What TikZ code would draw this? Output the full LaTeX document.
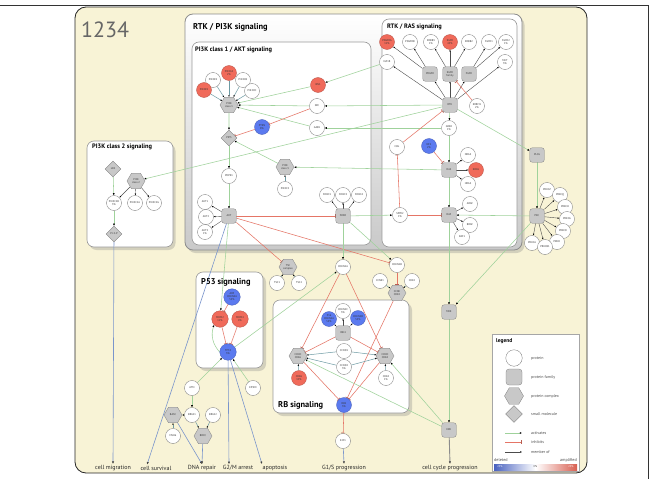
\documentclass[tikz,border=0pt]{standalone}
\usepackage{fontspec}
\setmainfont{PT Sans}
\usetikzlibrary{arrows.meta,shapes.geometric,shadows,positioning}
\pgfdeclarelayer{background}
\pgfdeclarelayer{edges}
\pgfsetlayers{background,edges,main}
\definecolor{cream}{HTML}{F8F3D6}
\definecolor{famgray}{HTML}{C8C8C8}
\definecolor{protred}{HTML}{F06A5A}
\definecolor{protblue}{HTML}{5B7AEF}
\definecolor{actgreen}{HTML}{9FD29B}
\definecolor{inhred}{HTML}{E57566}
\definecolor{cplteal}{HTML}{6C9AA3}
\definecolor{outblue}{HTML}{7A95CC}
\definecolor{boxgray}{HTML}{C9C9C9}

\begin{document}
\begin{tikzpicture}[x=1pt,y=-1pt,
 lbl/.style={font=\fontsize{2.7}{3}\selectfont,align=center,inner sep=0pt,text=black!80},
 protein/.style={lbl,circle,draw=black!55,line width=.3pt,fill=white,minimum size=15pt},
 protred/.style={protein,fill=protred,draw=protred!75!black},
 protblue/.style={protein,fill=protblue,draw=protblue!75!black},
 family/.style={lbl,rounded corners=2.5pt,draw=black!50,line width=.3pt,fill=famgray,minimum size=14.5pt},
 cplx/.style={lbl,regular polygon,regular polygon sides=6,draw=black!50,line width=.3pt,fill=famgray,minimum size=18pt},
 smallmol/.style={lbl,diamond,draw=black!50,line width=.3pt,fill=famgray,minimum size=16pt},
 act/.style={draw=actgreen,line width=.55pt,-{Latex[black,length=2.2pt,width=2pt]}},
 inh/.style={draw=inhred,line width=.55pt,-{Bar[inhred!80!black,width=4pt,line width=.6pt]}},
 memb/.style={draw=black!70,line width=.4pt,-{Latex[black,length=1.8pt,width=1.6pt]}},
 cpl/.style={draw=cplteal,line width=.5pt,-{Latex[black,length=1.8pt,width=1.6pt]}},
 outp/.style={draw=outblue,line width=.6pt,-{Latex[black!75,length=2.6pt,width=2.2pt]}},
 boxouter/.style={rounded corners=8pt,draw=black!45,line width=.8pt,top color=white,bottom color=boxgray,drop shadow={shadow xshift=2.5pt,shadow yshift=-3pt,opacity=.3}},
 boxinner/.style={rounded corners=7pt,draw=black!40,line width=.6pt,fill=white},
 boxtitle/.style={anchor=west,font=\bfseries\fontsize{6.4}{7}\selectfont,inner sep=0pt},
 bigtitle/.style={anchor=west,font=\bfseries\fontsize{8.4}{9}\selectfont,inner sep=0pt},
 outtext/.style={font=\fontsize{6}{7}\selectfont,inner sep=1pt,text=black!85},
 legtext/.style={anchor=west,font=\fontsize{4}{4.5}\selectfont,inner sep=0pt,text=black!70}]
\useasboundingbox (0,0) rectangle (654,479);

% frames and boxes
\begin{pgfonlayer}{background}
\draw[black!80,line width=.7pt] (0,5) -- (648.5,5) -- (648.5,479);
\draw[rounded corners=11pt,fill=cream,draw=black!85,line width=.8pt] (75,7) rectangle (587,473);
\draw[boxouter] (185,14) rectangle (522,250);
\draw[boxinner] (192,42) rectangle (371,245);
\draw[boxinner] (382,19) rectangle (517,247);
\draw[boxinner,drop shadow={shadow xshift=2.5pt,shadow yshift=-3pt,opacity=.3}] (87,141) rectangle (173,247);
\draw[boxinner,drop shadow={shadow xshift=3pt,shadow yshift=-3pt,opacity=.3}] (196,272) rectangle (263,368);
\draw[boxinner,drop shadow={shadow xshift=3pt,shadow yshift=-3pt,opacity=.3}] (273,300) rectangle (409,413);
\draw[draw=black!35,fill=white,line width=.5pt] (492,334) rectangle (579,471);
\end{pgfonlayer}

\node[anchor=west,font=\fontsize{22}{22}\selectfont,text=black!60,inner sep=0pt] (figno) at (81,30) {1234};
\node[bigtitle] (ttlrtkpi) at (193,27) {RTK / PI3K signaling};
\node[boxtitle] (ttlakt) at (195,50) {PI3K class 1 / AKT signaling};
\node[boxtitle] (ttlras) at (387,27) {RTK / RAS signaling};
\node[boxtitle] (ttlclasstwo) at (92,147) {PI3K class 2 signaling};
\node[bigtitle] (ttlpft) at (201,282) {P53 signaling};
\node[bigtitle] (ttlrb) at (278,405) {RB signaling};

% PI3K class 1 / AKT
\node[protein] (pik3r2) at (213,80) {PIK3R2};
\node[protein] (pik3cb) at (243,80) {PIK3CB};
\node[protred] (pik3r1) at (204,90) {PIK3R1};
\node[protein] (pik3cd) at (252,91) {PIK3CD};
\node[protred] (pik3ca) at (229,73) {PIK3CA\\2\%};
\node[cplx] (pi3kone) at (229,105) {PI3K\\class 1};
\node[protred] (irs1) at (318,85) {IRS1};
\node[protein] (src) at (317,106) {SRC};
\node[protein] (gab1) at (317,128) {GAB1};
\node[protblue] (pten) at (262,127) {PTEN\\8\%};
\node[smallmol] (pip3) at (229,138) {PIP3};
\node[protein] (pdpk1) at (229,176) {PDPK1};
\node[family] (akt) at (229,216) {AKT};
\node[protein] (akt1) at (205,202) {AKT1};
\node[protein] (akt2) at (206,217) {AKT2};
\node[protein] (akt3) at (205,232) {AKT3\\1\%};
\node[cplx] (pi3kthree) at (285,167) {PI3K\\class 3};
\node[protein] (pik3c3) at (285,189) {PIK3C3};
\node[family] (foxo) at (343,216) {FOXO};
\node[protein] (foxo1) at (327,195) {FOXO1};
\node[protein] (foxo3) at (343,195) {FOXO3};
\node[protein] (foxo4) at (359,195) {FOXO4};

% RTK / RAS
\node[protred] (pdgfra) at (387,42) {PDGFRA\\11\%};
\node[protein] (pdgfrb) at (410,42) {PDGFRB};
\node[protein] (erbb3) at (431,42) {ERBB3\\1\%};
\node[protred] (egfr) at (450,42) {EGFR\\45\%};
\node[protein] (erbb2) at (469,42) {ERBB2};
\node[protein] (fgfr1) at (489,42) {FGFR1};
\node[protein] (fgfr2) at (506,42) {FGFR2\\1\%};
\node[protein] (igf1r) at (387,62) {IGF1R};
\node[protein] (met) at (505,62) {MET\\3\%};
\node[family] (pdgfr) at (430,74) {PDGFR};
\node[family] (egfrfam) at (450,74) {EGFR\\family};
\node[family] (fgfr) at (469,74) {FGFR};
\node[family] (rtk) at (450,105) {RTK};
\node[protein] (errfi1) at (477,106) {ERRFI1\\2\%};
\node[protein] (grb2) at (449,128) {GRB2\\1\%};
\node[protein] (cbl) at (397,147) {CBL};
\node[protblue] (nf1) at (429,146) {NF1\\2\%};
\node[protein] (nras) at (468,155) {NRAS};
\node[family] (ras) at (449,170) {RAS};
\node[protred] (kras) at (476,170) {KRAS};
\node[protein] (hras) at (468,184) {HRAS};
\node[protein] (spry2) at (400,215) {SPRY2\\1\%};
\node[family] (raf) at (449,215) {RAF};
\node[protein] (araf) at (470,204) {ARAF};
\node[protein] (braf) at (470,225) {BRAF};
\node[protein] (raf1) at (462,237) {RAF1};

% PKC branch
\node[family] (plcg) at (537,155) {PLCG};
\node[family] (pkc) at (537,216) {PKC};
\node[protein] (prkcz) at (547,190) {PRKCZ};
\node[protein] (prkcq) at (560,195) {PRKCQ};
\node[protein] (prkch) at (565,207) {PRKCH};
\node[protein] (prkcg) at (567,219) {PRKCG};
\node[protein] (prkcd) at (563,231) {PRKCD};
\node[protein] (prkci) at (557,242) {PRKCI};
\node[protein] (prkca) at (532,243) {PRKCA};
\node[protein] (prkcb1) at (545,247) {PRKCB1};
\node[family] (mek) at (449,312) {MEK};
\node[family] (erk) at (449,430) {ERK};

% PI3K class 2
\node[smallmol] (lpa) at (113,169) {LPA};
\node[cplx] (pi3ktwo) at (136,181) {PI3K\\class 2};
\node[protein] (pik3c2b) at (114,203) {PIK3C2B\\5\%};
\node[protein] (pik3c2a) at (135,203) {PIK3C2A};
\node[protein] (pik3c2g) at (154,203) {PIK3C2G};
\node[smallmol] (pi3p) at (114,234) {PI-3-P};

% cell cycle entry
\node[protein] (cdkn1b) at (397,265) {CDKN1B};
\node[protein] (ccne1) at (380,281) {CCNE1};
\node[protein] (cdk2) at (412,281) {CDK2};
\node[cplx] (ccnecdk) at (397,293) {CCNE\\CDK2};
\node[protein] (cdkn1a) at (343,267) {CDKN1A};
\node[cplx] (tsc) at (288,267) {TSC\\complex};
\node[protein] (tsc1) at (277,283) {TSC1};
\node[protein] (tsc2) at (299,283) {TSC2};

% P53
\node[protblue,minimum size=16.5pt] (arf) at (232,297) {ARF\\CDKN2A\\53\%};
\node[protred,minimum size=16.5pt] (mdm2) at (220,319) {MDM2\\11\%};
\node[protred,minimum size=16.5pt] (mdm4) at (240,319) {MDM4\\4\%};
\node[protblue,minimum size=16.5pt] (tp53) at (228,352) {TP53\\3\%};
\node[protein] (ep300) at (253,388) {EP300};
\node[protein] (atm) at (192,388) {ATM};
\node[protein] (brca1) at (192,415) {BRCA1};
\node[cplx] (basc) at (173,415) {BASC};
\node[protein] (msh6) at (173,436) {MSH6};
\node[cplx] (brcc) at (203,436) {BRCC};
\node[protein] (brca2) at (213,415) {BRCA2};

% RB
\node[protblue] (cdkn2a) at (329,319) {P16\\CDKN2A\\53\%};
\node[protblue] (cdkn2b) at (358,318) {CDKN2B\\53\%};
\node[protein] (cdkn2c) at (343,311) {CDKN2C\\3\%};
\node[family] (ink4) at (343,333) {INK4};
\node[protein] (ccnd1) at (344,351) {CCND1};
\node[protein] (ccnd2) at (344,367) {CCND2\\3\%};
\node[cplx] (cdksixc) at (298,356) {CCND\\CDK6};
\node[protred] (cdk6) at (299,378) {CDK6\\10\%};
\node[cplx] (cdkfourc) at (385,356) {CCND\\CDK4};
\node[protein] (cdk4) at (386,378) {CDK4\\1\%};
\node[protblue] (rb1) at (344,405) {RB1\\3\%};
\node[protein] (e2f1) at (343,441) {E2F1};

% outcomes
\node[outtext] (migr) at (113,468) {cell migration};
\node[outtext] (surv) at (156,468) {cell survival};
\node[outtext] (dnarep) at (202,468) {DNA repair};
\node[outtext] (gtwom) at (238,468) {G2/M arrest};
\node[outtext] (apop) at (275,468) {apoptosis};
\node[outtext] (gones) at (344,468) {G1/S progression};
\node[outtext] (ccprog) at (450,468) {cell cycle progression};

% legend
\node[anchor=west,font=\bfseries\fontsize{5.5}{6}\selectfont,inner sep=0pt] (legttl) at (496,341) {legend};
\node[protein,minimum size=16.5pt] (legprot) at (514,358) {};
\node[family,minimum size=16pt,rounded corners=3pt] (legfam) at (514,377) {};
\node[cplx,minimum size=19pt] (legcplx) at (514,396) {};
\node[smallmol,minimum size=17pt] (legmol) at (514,414) {};
\node[legtext] at (531,358) {protein};
\node[legtext] at (531,377) {protein family};
\node[legtext] at (531,396) {protein complex};
\node[legtext] at (531,414) {small molecule};
\coordinate (actl) at (505,433); \coordinate (actr) at (522,433);
\coordinate (inhl) at (505,442); \coordinate (inhr) at (522,442);
\coordinate (meml) at (505,452); \coordinate (memr) at (522,452);
\node[legtext] at (531,433) {activates};
\node[legtext] at (531,442) {inhibits};
\node[legtext] at (531,452) {member of};
\node[legtext,font=\fontsize{4.2}{4.5}\selectfont] (legdel) at (494,460.5) {deleted};
\node[legtext,anchor=east,font=\fontsize{4.2}{4.5}\selectfont] (legamp) at (577,460.5) {amplified};
\shade[left color=protblue!80!black,right color=white] (494,464) rectangle (535.5,470);
\shade[left color=white,right color=protred!90!black] (535.5,464) rectangle (577,470);
\node[lbl,text=white] at (500,467) {25\%};
\node[lbl] at (535.5,467) {0\%};
\node[lbl,text=white] at (571,467) {25\%};

\begin{pgfonlayer}{edges}
\draw[act] (actl) -- (actr);
\draw[inh] (inhl) -- (inhr);
\draw[memb] (meml) -- (memr);
% PI3K class 1 / AKT
\foreach \s in {pik3ca,pik3r2,pik3r1,pik3cb,pik3cd} \draw[cpl] (\s) -- (pi3kone);
\draw[cpl] (pik3c3) -- (pi3kthree);
\draw[act] (igf1r) -- (irs1);
\draw[act] (rtk) -- (src);
\draw[act] (grb2) -- (gab1);
\draw[act] (rtk) -- (pi3ktwo);
\foreach \s in {irs1,src,gab1} \draw[act] (\s) -- (pi3kone);
\draw[act] (pi3kone) -- (pip3);
\draw[act] (pi3kthree) -- (pip3);
\draw[act] (ras) -- (pi3kthree);
\draw[inh] (src) -- (pten);
\draw[inh] (pten) -- (pip3);
\draw[act] (pip3) -- (pdpk1);
\draw[act] (pdpk1) -- (akt);
\foreach \t in {akt1,akt2,akt3} \draw[memb] (akt) -- (\t);
\foreach \t in {foxo1,foxo3,foxo4} \draw[memb] (foxo) -- (\t);
\draw[inh] (akt) -- (foxo);
\draw[inh] (akt) -- (tsc);
\draw[inh] (akt) -- (cdkn1b);
\draw[act] (akt) -- (mdm2);
\draw[act] (foxo) -- (cdkn1a);
\draw[act] (foxo) -- (cdkn1b);
\draw[act] (foxo) -- (spry2);
% RTK / RAS
\foreach \t in {pdgfra,pdgfrb} \draw[memb] (pdgfr) -- (\t);
\foreach \t in {erbb3,egfr,erbb2} \draw[memb] (egfrfam) -- (\t);
\foreach \t in {fgfr1,fgfr2} \draw[memb] (fgfr) -- (\t);
\foreach \t in {igf1r,pdgfr,egfrfam,fgfr,met} \draw[memb] (rtk) -- (\t);
\draw[inh] (errfi1) -- (egfrfam);
\draw[act] (rtk) -- (grb2);
\draw[inh] (cbl) -- (rtk);
\draw[act] (grb2) -- (ras);
\draw[inh] (nf1) -- (ras);
\foreach \t in {nras,kras,hras} \draw[memb] (ras) -- (\t);
\draw[act] (ras) -- (raf);
\draw[inh] (spry2) -- (raf);
\draw[inh] (spry2) -- (cbl);
\foreach \t in {araf,braf,raf1} \draw[memb] (raf) -- (\t);
\draw[act] (raf) -- (mek);
\draw[act] (rtk) -- (plcg);
\draw[act] (plcg) -- (pkc);
\draw[act] (pkc) -- (raf);
\draw[act] (pkc) -- (mek);
\foreach \t in {prkcz,prkcq,prkch,prkcg,prkcd,prkci,prkcb1,prkca} \draw[memb] (pkc) -- (\t);
\draw[act] (mek) -- (erk);
% PI3K class 2
\draw[act] (lpa) -- (pik3c2b);
\foreach \t in {pik3c2b,pik3c2a,pik3c2g} \draw[memb] (pi3ktwo) -- (\t);
\draw[act] (pik3c2b) -- (pi3p);
% P53
\draw[inh] (arf) -- (mdm2);
\draw[inh] (mdm2) -- (tp53);
\draw[inh] (mdm4) -- (tp53);
\draw[act] (tp53.west) to[bend left=30] (mdm2.south west);
\draw[act] (tp53) -- (cdkn1a);
\draw[act] (ep300) -- (tp53);
\draw[act] (atm) -- (tp53);
\draw[act] (atm) -- (brca1);
\draw[cpl] (brca1) -- (basc);
\draw[cpl] (msh6) -- (basc);
\draw[cpl] (brca1) -- (brcc);
\draw[cpl] (brca2) -- (brcc);
% cell cycle
\foreach \s in {tsc1,tsc2} \draw[cpl] (\s) -- (tsc);
\foreach \s in {ccne1,cdk2} \draw[cpl] (\s) -- (ccnecdk);
\draw[inh] (cdkn1b) -- (ccnecdk);
\draw[inh] (ccnecdk) -- (rb1);
\draw[inh] (cdkn1a) -- (cdksixc);
\draw[inh] (cdkn1a) -- (cdkfourc);
\foreach \t in {cdkn2a,cdkn2c,cdkn2b} \draw[memb] (ink4) -- (\t);
\draw[inh] (ink4) -- (cdksixc);
\draw[inh] (ink4) -- (cdkfourc);
\foreach \s in {ccnd1,ccnd2,cdk6} \draw[cpl] (\s) -- (cdksixc);
\foreach \s in {ccnd1,ccnd2,cdk4} \draw[cpl] (\s) -- (cdkfourc);
\draw[inh] (cdksixc) -- (rb1);
\draw[inh] (cdkfourc) -- (rb1);
\draw[act] (erk) -- (cdksixc);
\draw[act] (erk) -- (cdkfourc);
\draw[inh] (rb1) -- (e2f1);
% outcomes
\draw[outp] (pi3p) -- (migr.north);
\draw[outp] (akt) -- ([xshift=-9pt]surv.north);
\draw[outp] (basc) -- (dnarep.north);
\draw[outp] (brcc) -- (dnarep.north);
\draw[outp] (tp53) -- ([xshift=-9pt]gtwom.north);
\draw[outp] (tp53) -- ([xshift=-13pt]apop.north);
\draw[outp] (e2f1) -- (gones.north);
\draw[outp,draw=black!45,line width=.9pt] (erk) -- (ccprog.north);
\end{pgfonlayer}
\end{tikzpicture}
\end{document}
